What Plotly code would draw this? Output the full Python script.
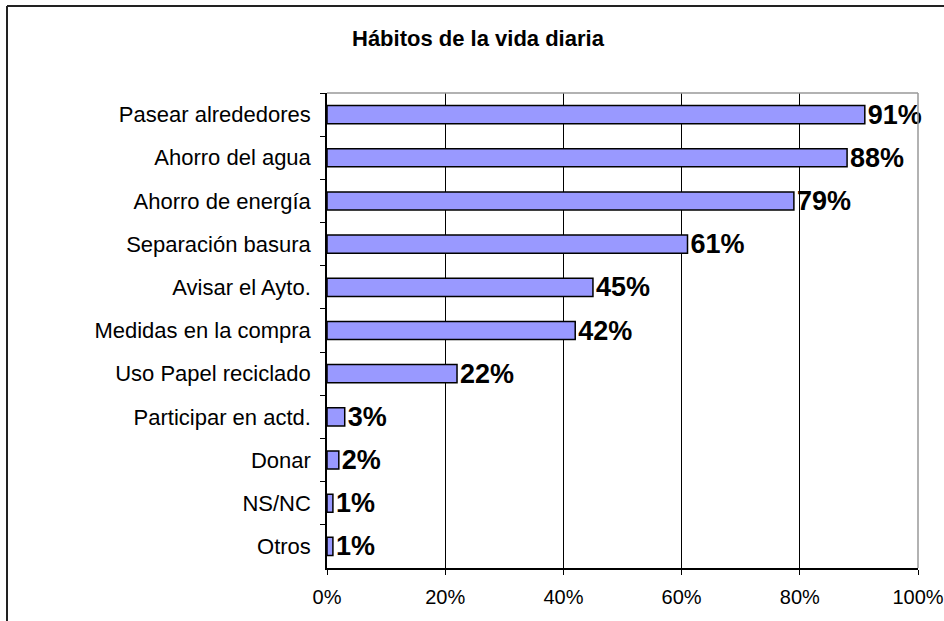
import plotly.graph_objects as go

categories = ["Pasear alrededores", "Ahorro del agua", "Ahorro de energía", "Separación basura",
              "Avisar el Ayto.", "Medidas en la compra", "Uso Papel reciclado",
              "Participar en actd.", "Donar", "NS/NC", "Otros"]
values = [0.91, 0.88, 0.79, 0.61, 0.45, 0.42, 0.22, 0.03, 0.02, 0.01, 0.01]
labels = [f"{round(v*100)}%" for v in values]
x_ticks = [0, 0.2, 0.4, 0.6, 0.8, 1.0]
x_ticktext = ["0%", "20%", "40%", "60%", "80%", "100%"]
title = "Hábitos de la vida diaria"

W, H = 944, 621
L, R, T, B = 327, 26, 93, 53
pw, ph = W - L - R, H - T - B

fig = go.Figure(go.Bar(
    x=values, y=categories, orientation="h",
    marker=dict(color="#9999FF", line=dict(color="black", width=1.5)),
    width=0.42,
    text=labels, textposition="outside", cliponaxis=False, constraintext="none",
    textfont=dict(family="Liberation Sans, Arial", size=27, color="black", weight="bold"),
    hoverinfo="skip",
))

fig.update_layout(
    width=W, height=H,
    margin=dict(l=L, r=R, t=T, b=B, autoexpand=False),
    paper_bgcolor="white", plot_bgcolor="white",
    showlegend=False,
    font=dict(family="Liberation Sans, Arial", size=20, color="black"),
    xaxis=dict(range=[0, 1], tickvals=x_ticks, ticktext=x_ticktext, automargin=False,
               showgrid=True, gridcolor="black", gridwidth=1, zeroline=False,
               showline=True, linecolor="black", linewidth=1.5,
               ticks="outside", ticklen=5, tickcolor="black",
               tickfont=dict(size=20), ticklabelstandoff=5, fixedrange=True),
    yaxis=dict(autorange="reversed", showgrid=False, zeroline=False, automargin=False,
               showline=True, linecolor="black", linewidth=1.5,
               ticks="outside", ticklen=5, tickcolor="black", tickson="boundaries",
               tickfont=dict(size=22), ticklabelstandoff=10, fixedrange=True),
    annotations=[dict(text=f"<b>{title}</b>", xref="paper", yref="paper",
                      x=(478 - L) / pw, y=1 + (T - 38) / ph, xanchor="center", yanchor="middle",
                      showarrow=False, font=dict(size=22, color="black"))],
    shapes=[
        dict(type="line", xref="paper", yref="paper", x0=0, x1=1, y0=1, y1=1,
             line=dict(color="#999999", width=1.5), layer="above"),
        dict(type="line", xref="paper", yref="paper", x0=1, x1=1, y0=0, y1=1,
             line=dict(color="#999999", width=1.5), layer="above"),
        dict(type="line", xref="paper", yref="paper",
             x0=(7 - L) / pw, x1=(7 - L) / pw, y0=-0.5, y1=1 + (T - 6) / ph,
             line=dict(color="#222222", width=2), layer="below"),
        dict(type="line", xref="paper", yref="paper",
             x0=(7 - L) / pw, x1=1.5, y0=1 + (T - 6) / ph, y1=1 + (T - 6) / ph,
             line=dict(color="#222222", width=2), layer="below"),
    ],
)

fig.write_html("out.html", config={"displayModeBar": False},
               post_script="document.body.style.margin='0';document.body.style.overflow='hidden';")
